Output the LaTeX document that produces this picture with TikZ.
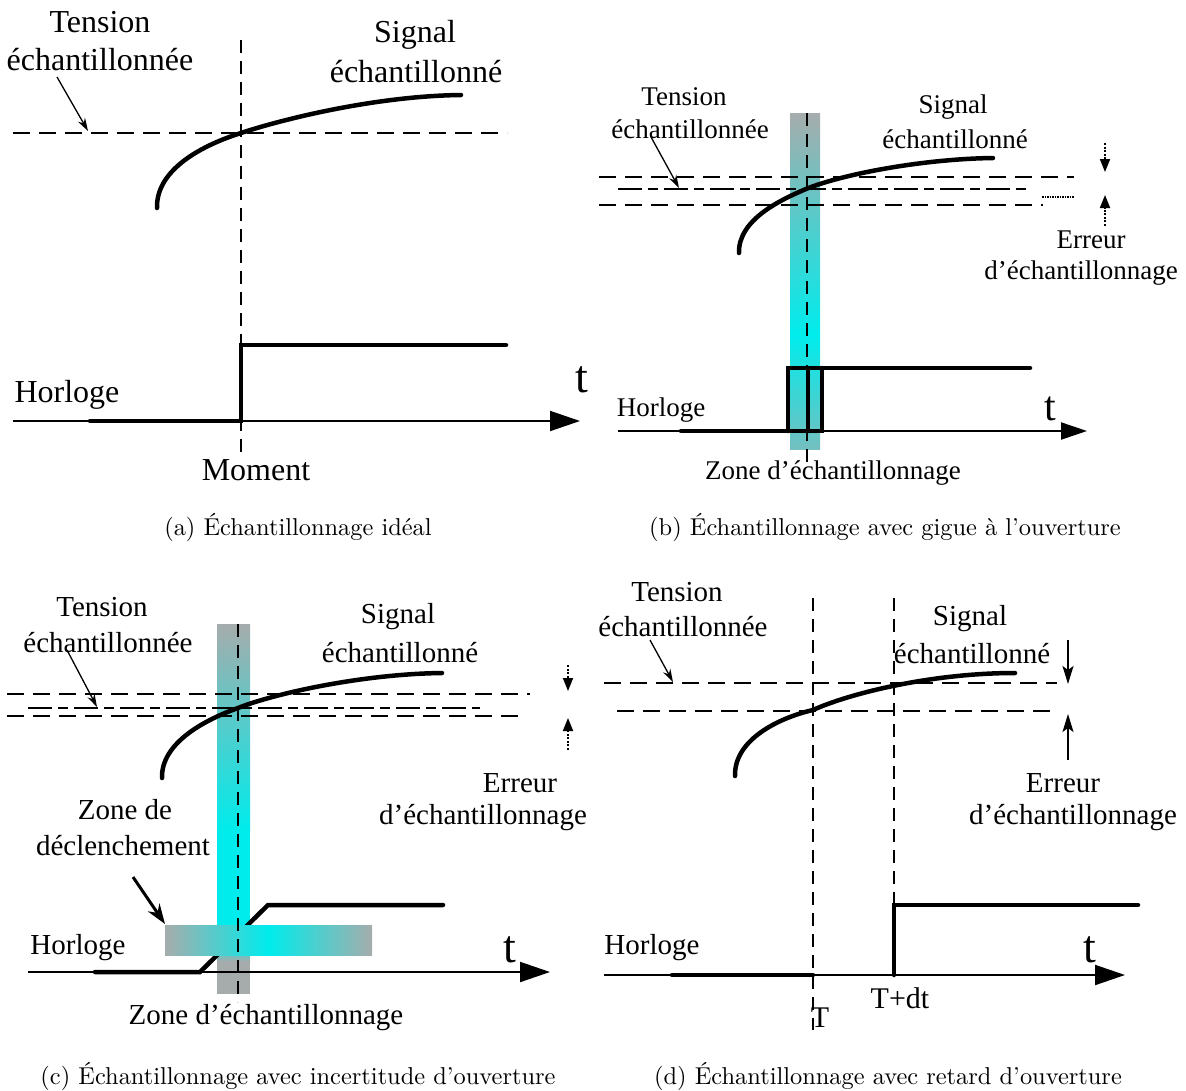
\documentclass[tikz,border=0pt]{standalone}
\usepackage{fontspec}
\newfontfamily\tnr{Liberation Serif}
\newfontfamily\capfont{lmroman10-regular.otf}
\usetikzlibrary{arrows.meta}
\definecolor{bandgray}{RGB}{166,172,172}
\definecolor{bandcyan}{RGB}{0,236,236}
\tikzset{
  sig/.style={line width=4.5pt, line cap=round},
  clk/.style={line width=4.5pt, line cap=round, line join=miter},
  axisline/.style={line width=2pt, -{Triangle[length=30pt,width=20pt]}},
  hd/.style={line width=1.8pt, dash pattern=on 17pt off 9pt},
  md/.style={line width=1.8pt, dash pattern=on 24pt off 6pt on 10pt off 6pt},
  vd/.style={line width=1.8pt, dash pattern=on 13pt off 8pt},
  ptr/.style={line width=1.3pt, -{Stealth[length=13pt,width=8pt]}},
  errd/.style={line width=1.8pt, dash pattern=on 2pt off 1.6pt, -{Triangle[length=13pt,width=10pt]}},
  errs/.style={line width=1.5pt, -{Stealth[length=18pt,width=11pt,inset=4pt]}},
  thickptr/.style={line width=3pt, -{Stealth[length=20pt,width=14pt]}},
  lab/.style={font=\tnr\fontsize{#1}{#1}\selectfont, inner sep=0pt},
  captext/.style={font=\capfont\fontsize{24.4}{28}\selectfont, inner sep=0pt}
}
\begin{document}
\begin{tikzpicture}[x=1pt,y=-1pt]
\useasboundingbox (0,0) rectangle (1186,1090);

% ================= (a) =================
\node[lab=32] (aT1) at (100,22) {Tension};
\node[lab=32] (aT2) at (100,60) {échantillonnée};
\node[lab=32] (aS1) at (415,35) {Signal};
\node[lab=32] (aS2) at (416,72) {échantillonné};
\node[lab=32] (aH) at (67,395) {Horloge};
\node[lab=46] (at) at (582,380) {t};
\node[lab=32] (aM) at (256,470) {Moment};
\node[captext] (capa) at (298,527) {(a) Échantillonnage idéal};
\coordinate (aAx0) at (13,421);
\coordinate (aAx1) at (580,421);
\coordinate (aP0) at (57,77);
\coordinate (aP1) at (88,131);
\draw[hd] (13,133) -- (507,133);
\draw[vd] (241,40) -- (241,458);
\draw[sig] (157,208) .. controls (156,169) and (203,145) .. (241,133) .. controls (280,120) and (374,96) .. (461,95);
\draw[axisline] (aAx0) -- (aAx1);
\draw[clk] (90,421) -- (241,421) -- (241,345) -- (506,345);
\draw[ptr] (aP0) -- (aP1);

% ================= (b) =================
\shade[top color=bandgray, bottom color=bandcyan] (790,113) rectangle (820,335);
\shade[top color=bandcyan, bottom color=bandgray!70!bandcyan] (790,335) rectangle (820,449);
\node[lab=27] (bT1) at (684,97) {Tension};
\node[lab=27] (bT2) at (690,129) {échantillonnée};
\node[lab=27] (bS1) at (953,107) {Signal};
\node[lab=27] (bS2) at (955,139) {échantillonné};
\node[lab=27] (bE1) at (1091,240) {Erreur};
\node[lab=27] (bE2) at (1081,273) {d’échantillonnage};
\node[lab=27] (bH) at (661,410) {Horloge};
\node[lab=42] (bt) at (1050,409) {t};
\node[lab=27] (bZ) at (833,473) {Zone d’échantillonnage};
\node[captext] (capb) at (885,527) {(b) Échantillonnage avec gigue à l’ouverture};
\draw[hd] (599,177) -- (1074,177);
\draw[md] (618,189) -- (1031,189);
\draw[hd] (599,205) -- (1043,205);
\draw[line width=1.5pt, densely dotted] (1042,197) -- (1074,197);
\draw[vd] (807,113) -- (807,463);
\draw[sig] (739,253) .. controls (738,220) and (780,200) .. (806,189) .. controls (840,175) and (920,159) .. (993,158);
\coordinate (bAx0) at (618,431);
\coordinate (bAx1) at (1087,431);
\draw[line width=2pt, -{Triangle[length=26pt,width=17pt]}] (bAx0) -- (bAx1);
\draw[clk] (681,431) -- (822,431) -- (822,368);
\draw[clk] (788,431) -- (788,368) -- (1030,368);
\draw[clk] (808,368) -- (808,431);
\coordinate (bP0) at (651,137);
\coordinate (bP1) at (679,188);
\draw[ptr] (bP0) -- (bP1);
\coordinate (bU0) at (1105,143);
\coordinate (bU1) at (1105,172);
\coordinate (bD0) at (1105,226);
\coordinate (bD1) at (1105,195);
\draw[errd] (bU0) -- (bU1);
\draw[errd] (bD0) -- (bD1);

% ================= (c) =================
\shade[top color=bandgray, bottom color=bandcyan] (217,624) rectangle (250,830);
\fill[bandcyan] (217,829) rectangle (250,940);
\shade[top color=bandcyan, bottom color=bandgray] (217,939) rectangle (250,962);
\fill[bandgray] (217,961) rectangle (250,994);
\node[lab=29] (cT1) at (102,607) {Tension};
\node[lab=29] (cT2) at (108,643) {échantillonnée};
\node[lab=29] (cS1) at (398,617) {Signal};
\node[lab=29] (cS2) at (400,653) {échantillonné};
\node[lab=29] (cE1) at (520,783) {Erreur};
\node[lab=29] (cE2) at (483,818) {d’échantillonnage};
\node[lab=29] (cZ1) at (125,810) {Zone de};
\node[lab=29] (cZ2) at (123,846) {déclenchement};
\node[lab=29] (cH) at (78,948) {Horloge};
\node[lab=46] (ct) at (510,950) {t};
\node[lab=29] (cZ) at (266,1018) {Zone d’échantillonnage};
\node[captext] (capc) at (298,1076) {(c) Échantillonnage avec incertitude d’ouverture};
\draw[hd] (7,694) -- (530,694);
\draw[md] (28,708) -- (480,708);
\draw[hd] (7,716) -- (522,716);
\draw[sig] (162,778) .. controls (161,742) and (207,719) .. (238,708) .. controls (273,694) and (361,674) .. (442,673);
\coordinate (cAx0) at (28,972);
\coordinate (cAx1) at (550,972);
\draw[axisline] (cAx0) -- (cAx1);
\draw[clk] (95,972) -- (200,972) -- (268,905) -- (443,905);
\shade[left color=bandgray, right color=bandgray, middle color=bandcyan] (165,925) rectangle (372,955);
\draw[vd] (238,624) -- (238,1002);
\coordinate (cP0) at (67,650);
\coordinate (cP1) at (97,707);
\draw[ptr] (cP0) -- (cP1);
\coordinate (cU0) at (568,665);
\coordinate (cU1) at (568,691);
\coordinate (cD0) at (568,750);
\coordinate (cD1) at (568,718);
\draw[errd] (cU0) -- (cU1);
\draw[errd] (cD0) -- (cD1);
\coordinate (cQ0) at (133,877);
\coordinate (cQ1) at (165,924);
\draw[thickptr] (cQ0) -- (cQ1);

% ================= (d) =================
\node[lab=29] (dT1) at (677,592) {Tension};
\node[lab=29] (dT2) at (683,627) {échantillonnée};
\node[lab=29] (dS1) at (970,619) {Signal};
\node[lab=29] (dS2) at (972,654) {échantillonné};
\node[lab=29] (dE1) at (1063,783) {Erreur};
\node[lab=29] (dE2) at (1073,818) {d’échantillonnage};
\node[lab=29] (dH) at (652,948) {Horloge};
\node[lab=46] (dt) at (1090,950) {t};
\node[lab=30] (dTdt) at (900,998) {T+dt};
\node[lab=30] (dTT) at (820,1018) {T};
\node[captext] (capd) at (888,1076) {(d) Échantillonnage avec retard d’ouverture};
\draw[hd] (604,683) -- (1057,683);
\draw[hd] (617,711) -- (1057,711);
\draw[vd] (813,598) -- (813,1030);
\draw[vd] (894,598) -- (894,975);
\draw[sig] (735,776) .. controls (734,740) and (778,718) .. (813,710) .. controls (848,694) and (930,673) .. (1015,673);
\coordinate (dAx0) at (604,975);
\coordinate (dAx1) at (1125,975);
\draw[axisline] (dAx0) -- (dAx1);
\draw[clk] (672,975) -- (813,975);
\draw[clk] (894,975) -- (894,905) -- (1138,905);
\coordinate (dP0) at (650,640);
\coordinate (dP1) at (673,682);
\draw[ptr] (dP0) -- (dP1);
\coordinate (dU0) at (1068,640);
\coordinate (dU1) at (1068,684);
\coordinate (dD0) at (1068,760);
\coordinate (dD1) at (1068,714);
\draw[errs] (dU0) -- (dU1);
\draw[errs] (dD0) -- (dD1);
\end{tikzpicture}
\end{document}
